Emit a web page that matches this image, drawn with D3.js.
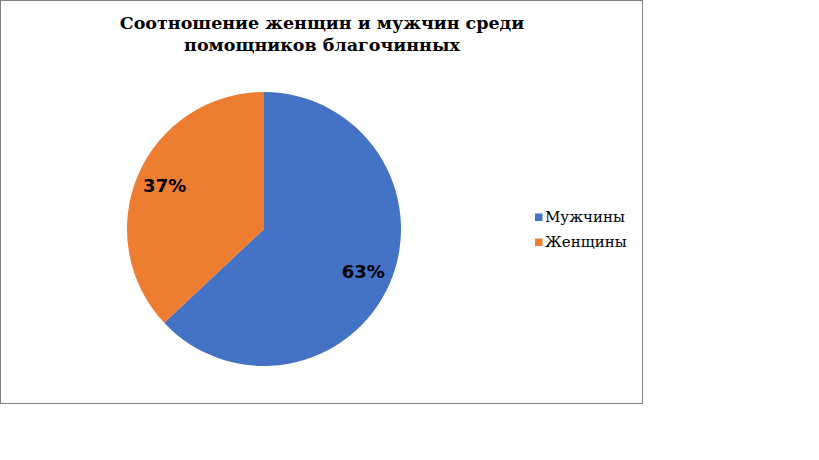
<!DOCTYPE html>
<html><head><meta charset="utf-8">
<script src="https://cdn.jsdelivr.net/npm/d3@7"></script>
<style>body{margin:0;background:#fff}</style>
</head><body>
<svg id="c" width="819" height="460"></svg>
<script>
const categories = ["Мужчины", "Женщины"];
const values = [63, 37];
const labels = ["63%", "37%"];
const colors = ["#4472C4", "#ED7D31"];
const titleLines = ["Соотношение женщин и мужчин среди", "помощников благочинных"];

const svg = d3.select("#c");
svg.append("rect").attr("x",0.5).attr("y",0.5).attr("width",642).attr("height",403)
  .attr("fill","#fff").attr("stroke","#808080").attr("stroke-width",1);

svg.append("g").selectAll("text").data(titleLines).join("text")
  .attr("x",322).attr("y",(d,i)=>29+i*22).attr("text-anchor","middle")
  .style("font-family","'DejaVu Serif', serif").style("font-weight","bold").style("font-size","17.5px")
  .text(d=>d);

const cx=264, cy=229, r=137;
const pie = d3.pie().sort(null).value(d=>d)(values);
const arc = d3.arc().innerRadius(0).outerRadius(r);
const g = svg.append("g").attr("transform",`translate(${cx},${cy})`);
g.selectAll("path").data(pie).join("path").attr("d",arc).attr("fill",(d,i)=>colors[i]);
const labArc = d3.arc().innerRadius(r*0.79).outerRadius(r*0.79);
g.selectAll("text").data(pie).join("text")
  .attr("transform",d=>`translate(${labArc.centroid(d)})`)
  .attr("text-anchor","middle").attr("dy","0.35em")
  .style("font-family","'DejaVu Sans', sans-serif").style("font-weight","bold").style("font-size","18px")
  .text((d,i)=>labels[i]);

const leg = svg.append("g").selectAll("g").data(categories).join("g")
  .attr("transform",(d,i)=>`translate(535,${221.5+i*25})`);
leg.append("rect").attr("x",0).attr("y",-8).attr("width",7.5).attr("height",7.5).attr("fill",(d,i)=>colors[i]);
leg.append("text").attr("x",10).attr("y",0)
  .style("font-family","'DejaVu Serif', serif").style("font-size","15px").text(d=>d);
</script>
</body></html>
